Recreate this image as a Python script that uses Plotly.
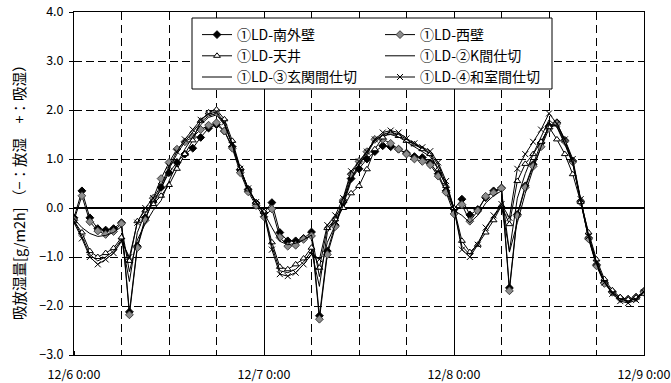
import pandas as pd
import plotly.graph_objects as go

times = pd.date_range("2007-12-06 00:00", "2007-12-09 00:00", freq="h").strftime("%Y-%m-%d %H:%M").tolist()

names = ["①LD-南外壁", "①LD-西壁", "①LD-天井", "①LD-②K間仕切", "①LD-③玄関間仕切", "①LD-④和室間仕切"]

south_wall = [-0.2, 0.35, -0.2, -0.42, -0.45, -0.42, -0.3, -2.12, -0.78, -0.2, 0.12, 0.42, 0.72, 0.93, 1.1, 1.22, 1.44, 1.63, 1.7, 1.57, 1.25, 0.78, 0.38, 0.1,
              -0.1, 0.11, -0.5, -0.67, -0.67, -0.62, -0.49, -2.2, -0.88, -0.35, 0.12, 0.6, 0.8, 1.0, 1.15, 1.27, 1.25, 1.2, 1.12, 1.05, 1.03, 0.92, 0.7, 0.35,
              -0.02, 0.18, -0.14, -0.03, 0.21, 0.35, 0.41, -1.63, -0.13, 0.45, 0.89, 1.33, 1.67, 1.74, 1.38, 0.96, 0.14, -0.61, -1.16, -1.52, -1.71, -1.84, -1.86, -1.82, -1.7]
west_wall = [-0.25, 0.25, -0.28, -0.47, -0.54, -0.48, -0.32, -2.18, -0.81, -0.25, 0.2, 0.6, 0.93, 1.2, 1.35, 1.45, 1.6, 1.69, 1.74, 1.57, 1.22, 0.72, 0.33, 0.05,
             -0.18, -0.02, -0.6, -0.78, -0.76, -0.64, -0.57, -2.27, -0.95, -0.38, 0.16, 0.69, 0.95, 1.15, 1.4, 1.4, 1.32, 1.2, 1.1, 1.0, 0.95, 0.88, 0.65, 0.32,
             -0.12, 0.07, -0.27, -0.06, 0.24, 0.31, 0.4, -1.69, -0.16, 0.42, 0.85, 1.25, 1.62, 1.72, 1.36, 0.94, 0.12, -0.63, -1.18, -1.54, -1.72, -1.85, -1.87, -1.83, -1.72]
ceiling = [-0.27, -0.5, -0.88, -1.0, -0.92, -0.82, -0.6, -1.08, -0.27, -0.05, 0.08, 0.25, 0.47, 0.8, 1.1, 1.38, 1.78, 1.95, 2.01, 1.81, 1.37, 0.82, 0.38, 0.11,
           -0.08, -0.7, -1.2, -1.25, -1.15, -1.03, -0.81, -1.22, -0.41, -0.23, 0.0, 0.3, 0.45, 0.79, 1.2, 1.44, 1.54, 1.47, 1.37, 1.3, 1.2, 1.1, 0.79, 0.45,
           0.0, -0.67, -0.9, -0.75, -0.5, -0.25, 0.05, -0.33, 0.55, 0.9, 1.1, 1.35, 1.65, 1.4, 1.1, 0.69, 0.12, -0.5, -1.05, -1.45, -1.68, -1.82, -1.87, -1.83, -1.75]
k_partition = [-0.25, -0.58, -0.95, -1.08, -1.0, -0.88, -0.64, -1.5, -0.5, -0.1, 0.12, 0.38, 0.8, 1.1, 1.35, 1.55, 1.75, 1.88, 1.93, 1.72, 1.3, 0.8, 0.4, 0.12,
               -0.1, -0.78, -1.28, -1.32, -1.25, -1.1, -0.88, -1.6, -0.5, -0.2, 0.1, 0.6, 0.9, 1.1, 1.38, 1.5, 1.55, 1.5, 1.4, 1.3, 1.22, 1.12, 0.88, 0.5,
               -0.02, -0.78, -0.95, -0.72, -0.42, -0.18, 0.05, -0.88, 0.2, 0.7, 1.1, 1.45, 1.8, 1.65, 1.3, 0.9, 0.15, -0.55, -1.1, -1.5, -1.72, -1.86, -1.9, -1.85, -1.7]
entrance_partition = [-0.22, -0.4, -0.52, -0.58, -0.56, -0.5, -0.38, -1.3, -0.65, -0.32, -0.05, 0.15, 0.55, 0.9, 1.2, 1.45, 1.7, 1.85, 1.9, 1.7, 1.28, 0.78, 0.38, 0.1,
                      -0.1, -0.4, -0.68, -0.75, -0.72, -0.65, -0.55, -1.4, -0.7, -0.35, 0.05, 0.55, 0.88, 1.15, 1.38, 1.48, 1.5, 1.45, 1.35, 1.25, 1.15, 1.05, 0.8, 0.45,
                      -0.05, -0.15, -0.3, -0.15, 0.1, 0.25, 0.35, -0.9, -0.3, 0.3, 0.8, 1.25, 1.7, 1.68, 1.32, 0.92, 0.12, -0.6, -1.15, -1.5, -1.72, -1.86, -1.9, -1.85, -1.7]
washitsu_partition = [-0.3, -0.62, -1.0, -1.15, -1.05, -0.92, -0.68, -1.0, -0.3, 0.0, 0.2, 0.45, 0.85, 1.15, 1.4, 1.6, 1.8, 1.92, 1.96, 1.75, 1.3, 0.8, 0.4, 0.12,
                      -0.12, -0.85, -1.35, -1.39, -1.32, -1.15, -0.95, -1.05, -0.35, -0.15, 0.2, 0.75, 0.95, 1.15, 1.4, 1.54, 1.58, 1.54, 1.42, 1.32, 1.24, 1.16, 0.93, 0.55,
                      -0.02, -0.85, -1.0, -0.75, -0.4, -0.15, 0.08, -0.2, 0.8, 1.1, 1.35, 1.6, 1.93, 1.72, 1.4, 1.0, 0.18, -0.58, -1.12, -1.52, -1.75, -1.9, -1.94, -1.88, -1.72]

x_tick_vals = ["2007-12-06 00:00", "2007-12-07 00:00", "2007-12-08 00:00", "2007-12-09 00:00"]
x_tick_text = ["12/6 0:00", "12/7 0:00", "12/8 0:00", "12/9 0:00"]
y_label = "吸放湿量[g/m2h] （−：放湿　+：吸湿）"

JP = "Noto Sans CJK JP"

# plot area in pixels (for converting legend/box positions to paper coords)
L, R, T, B = 74, 644, 12, 355
def px_x(p): return (p - L) / (R - L)
def px_y(p): return (B - p) / (B - T)

series = [south_wall, west_wall, ceiling, k_partition, entrance_partition, washitsu_partition]
legend_ids = ["legend", "legend2", "legend", "legend2", "legend", "legend2"]
styles = [
    dict(mode="lines+markers", marker=dict(symbol="diamond", size=6, color="black", line=dict(color="black", width=1))),
    dict(mode="lines+markers", marker=dict(symbol="diamond", size=6, color="#8c8c8c", line=dict(color="#404040", width=1))),
    dict(mode="lines+markers", marker=dict(symbol="triangle-up", size=6, color="white", line=dict(color="black", width=1))),
    dict(mode="lines"),
    dict(mode="lines"),
    dict(mode="lines+markers", marker=dict(symbol="x-thin", size=6, color="black", line=dict(color="black", width=1))),
]

fig = go.Figure()
for i, (name, vals, st, lg) in enumerate(zip(names, series, styles, legend_ids)):
    fig.add_trace(go.Scatter(x=times, y=vals, name=name, legend=lg, legendgroup=f"g{i}",
                             line=dict(color="black", width=1), **st))

leg_common = dict(orientation="v", yanchor="top", xanchor="left", bgcolor="rgba(0,0,0,0)",
                  borderwidth=0, tracegroupgap=1, traceorder="normal",
                  font=dict(family=JP, size=14, color="black"))

fig.update_layout(
    width=671, height=383,
    margin=dict(l=L, r=671 - R, t=T, b=383 - B),
    paper_bgcolor="white", plot_bgcolor="white",
    font=dict(family=JP, size=13, color="black"),
    showlegend=True,
    legend=dict(x=px_x(197), y=px_y(19), **leg_common),
    legend2=dict(x=px_x(380), y=px_y(19), **leg_common),
    shapes=[dict(type="rect", xref="paper", yref="paper", x0=px_x(192), x1=px_x(552),
                 y0=px_y(89), y1=px_y(18), line=dict(color="black", width=1),
                 fillcolor="white", layer="above")],
    annotations=[dict(text=y_label, textangle=-90, xref="paper", yref="paper",
                      x=px_x(18), y=px_y(189), xanchor="center", yanchor="middle", showarrow=False,
                      font=dict(family=JP, size=14.5, color="black"))],
)

fig.update_xaxes(
    type="date", range=[x_tick_vals[0], x_tick_vals[-1]], automargin=False,
    tickmode="array", tickvals=x_tick_vals, ticktext=x_tick_text,
    tickfont=dict(family=JP, size=12.5), ticks="", ticklabelstandoff=8,
    ticklabeloverflow="allow",
    showgrid=True, gridcolor="black", gridwidth=1,
    showline=True, mirror=True, linecolor="black", linewidth=1,
    minor=dict(tick0=x_tick_vals[0], dtick=6 * 3600000, showgrid=True, gridcolor="black",
               gridwidth=1, griddash="8px,5px", ticks="inside", ticklen=4, tickcolor="black"),
)
fig.update_yaxes(
    range=[-3, 4], dtick=1, tickformat=".1f", automargin=False,
    tickfont=dict(family=JP, size=12.5), ticks="outside", ticklen=4, tickcolor="black",
    ticklabelstandoff=3, ticklabeloverflow="allow",
    showgrid=True, gridcolor="black", gridwidth=1, griddash="8px,4px",
    zeroline=True, zerolinecolor="black", zerolinewidth=2,
    showline=True, mirror=True, linecolor="black", linewidth=1,
)

fig.write_html("out.html")
